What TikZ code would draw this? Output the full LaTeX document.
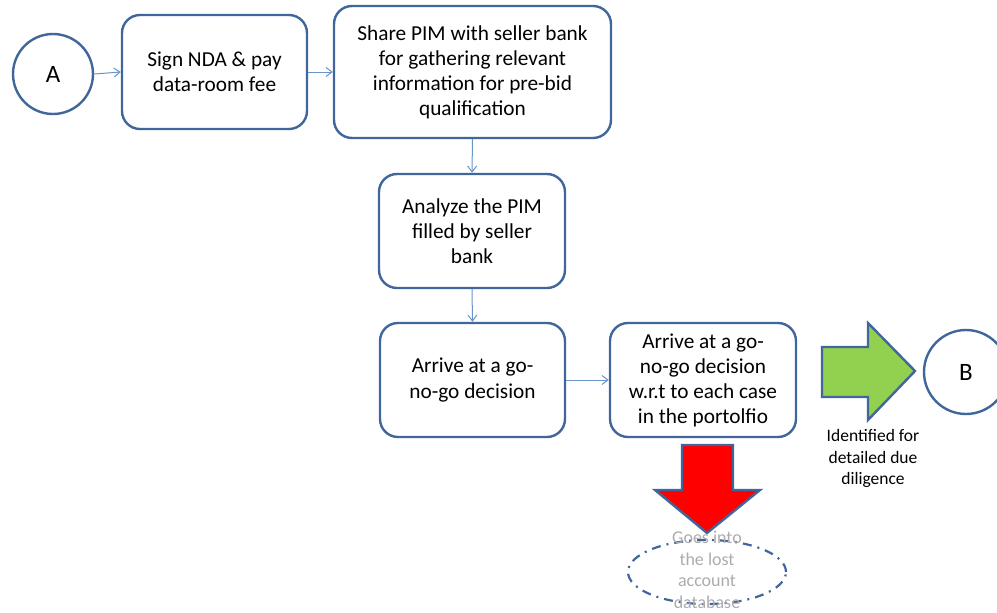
\documentclass[tikz,border=0pt]{standalone}
\usepackage{fontspec}
\setmainfont{Carlito}
\usetikzlibrary{arrows.meta}
\definecolor{bord}{HTML}{41669B}
\definecolor{conn}{HTML}{6A93C8}
\definecolor{greenar}{HTML}{92D050}
\begin{document}
\begin{tikzpicture}[x=1pt,y=1pt,
  box/.style={draw=bord,line width=2.4pt,rounded corners=18pt,fill=white,
    align=center,font=\fontsize{21.3}{25}\selectfont,inner sep=0pt},
  circ/.style={draw=bord,line width=2.4pt,circle,fill=white,inner sep=0pt,
    font=\fontsize{25}{29}\selectfont},
  conarrow/.style={draw=conn,line width=1pt,-{Straight Barb[length=6pt,width=9pt]}},
  bigarrow/.style={draw=bord,line width=2.4pt,line join=miter}
]
\useasboundingbox (0,0) rectangle (997,-613);
\node[circ,minimum size=80pt] (A) at (53,-74) {A};
\node[box,minimum width=185pt,minimum height=114pt] (b1) at (214.5,-72) {Sign NDA \& pay\\data-room fee};
\node[box,minimum width=277pt,minimum height=132pt] (b2) at (472.5,-72) {Share PIM with seller bank\\for gathering relevant\\information for pre-bid\\qualification};
\node[box,minimum width=186pt,minimum height=114pt] (b3) at (472,-231) {Analyze the PIM\\filled by seller\\bank};
\node[box,minimum width=185pt,minimum height=114pt] (b4) at (472.5,-380) {Arrive at a go-\\no-go decision};
\node[box,minimum width=186pt,minimum height=114pt] (b5) at (703,-380) {Arrive at a go-\\no-go decision\\w.r.t to each case\\in the portolfio};
\node[circ,minimum size=84pt] (B) at (966,-372) {B};

\draw[conarrow] (A.east) -- (b1.west);
\draw[conarrow] (b1.east) -- (b2.west |- b1.east);
\draw[conarrow] (b2.south) -- (b3.north);
\draw[conarrow] (b3.south) -- (b4.north);
\draw[conarrow] (b4.east) -- (b5.west);

% green arrow
\draw[bigarrow,fill=greenar] (822,-347) -- (868,-347) -- (868,-323) -- (915,-371)
  -- (868,-420) -- (868,-397) -- (822,-397) -- cycle;
\node[align=center,font=\fontsize{17.5}{21.5}\selectfont,anchor=north] (lblB) at (873,-426)
  {Identified for\\detailed due\\diligence};

% dashed ellipse
\draw[draw=bord,line width=2.2pt,dash pattern=on 9pt off 6pt on 2pt off 6pt]
  (707,-572) ellipse [x radius=79pt,y radius=32pt];
% red arrow
\draw[bigarrow,fill=red] (682,-445) -- (733,-445) -- (733,-490) -- (760,-490)
  -- (707,-533) -- (655,-490) -- (682,-490) -- cycle;
\node[align=center,text=gray!65,font=\fontsize{18}{21.5}\selectfont] (lost) at (707,-570)
  {Goes into\\the lost\\account\\database};
\end{tikzpicture}
\end{document}
